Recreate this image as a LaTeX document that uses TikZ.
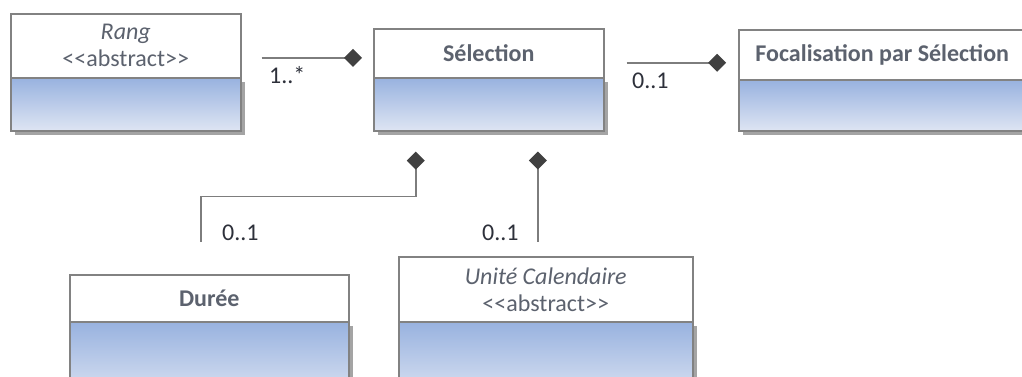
\documentclass[tikz,border=0pt]{standalone}
\usepackage{fontspec}
\setmainfont{Carlito}
\usetikzlibrary{arrows.meta,shadows}
\definecolor{boxline}{RGB}{130,130,130}
\definecolor{blueT}{RGB}{152,178,223}
\definecolor{blueB}{RGB}{222,229,243}
\definecolor{nametxt}{RGB}{92,98,110}
\definecolor{multtxt}{RGB}{45,48,58}
\definecolor{linec}{RGB}{125,125,125}
\definecolor{diamc}{RGB}{64,64,64}
\begin{document}
\begin{tikzpicture}[x=1pt,y=-1pt,
    clshead/.style={draw=boxline, line width=1.5pt, fill=white, text=nametxt, inner sep=0pt,
        anchor=north west, align=center, font=\fontsize{24}{27}\selectfont},
    clsbody/.style={draw=boxline, line width=1.5pt, top color=blueT, bottom color=blueB, inner sep=0pt,
        anchor=north west, drop shadow={shadow xshift=4pt, shadow yshift=-4pt, opacity=.55, fill=black!65}},
    mult/.style={anchor=west, inner sep=0pt, text=multtxt, font=\fontsize{24}{27}\selectfont},
    agg/.style={draw=linec, line width=1.5pt},
    dia/.tip={Diamond[length=18pt, width=18pt, color=diamc, fill=diamc]}]
    \useasboundingbox (0,0) rectangle (1022,376);
    \clip (0,0) rectangle (1022,376);
        % Class: Rang
        \node [clsbody, minimum width=230, minimum height=53] (rangb) at (10,77) {};
        \node [clshead, minimum width=230, minimum height=64] (rang) at (10,13) {\textit{Rang}\\<{}<abstract>{}>};
        % Class: Selection
        \node [clsbody, minimum width=230, minimum height=53] (selb) at (373,77) {};
        \node [clshead, minimum width=230, minimum height=49] (sel) at (373,28) {\textbf{Sélection}};
        % Class: Focalisation
        \node [clsbody, minimum width=287, minimum height=51] (focb) at (738,79) {};
        \node [clshead, minimum width=287, minimum height=50] (foc) at (738,29) {\textbf{Focalisation par Sélection}};
        % Class: Duree
        \node [clsbody, minimum width=279, minimum height=80] (durb) at (69,321) {};
        \node [clshead, minimum width=279, minimum height=47] (dur) at (69,274) {\textbf{Durée}};
        % Class: Unite Calendaire
        \node [clsbody, minimum width=294, minimum height=80] (unitb) at (398,321) {};
        \node [clshead, minimum width=294, minimum height=65] (unit) at (398,256) {\textit{Unité Calendaire}\\<{}<abstract>{}>};

        % Aggregations
        \draw [agg, -dia] ([xshift=20pt,yshift=-12pt]rang.east) -- ([xshift=-11pt,yshift=-4.5pt]sel.west);
        \draw [agg, -dia] ([xshift=22pt,yshift=-9.5pt]sel.east) -- ([xshift=-12pt,yshift=-8pt]foc.west);
        \draw [agg, dia-] ([xshift=-73pt,yshift=-20pt]selb.south) -- ++(0,45) -| ([xshift=-8.5pt,yshift=32pt]dur.north);
        \draw [agg, dia-] ([xshift=49pt,yshift=-20pt]selb.south) -- ([xshift=-8pt,yshift=14pt]unit.north);

        % Multiplicities
        \node [mult] (m1) at (269,75) {1..*};
        \node [mult] (m2) at (632,81) {0..1};
        \node [mult] (m3) at (222,233) {0..1};
        \node [mult] (m4) at (482,233) {0..1};
\end{tikzpicture}
\end{document}
